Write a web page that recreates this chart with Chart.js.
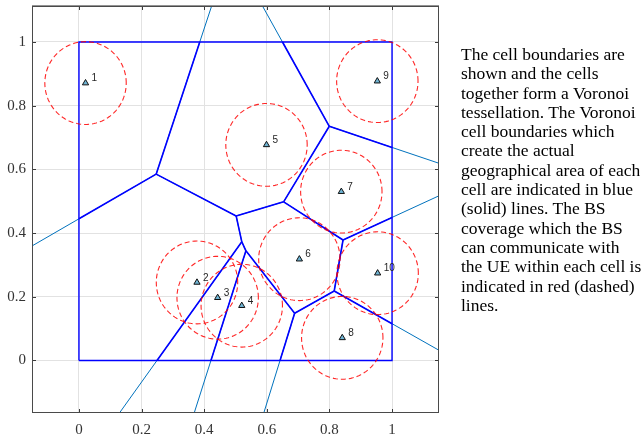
<!DOCTYPE html>
<html>
<head>
<meta charset="utf-8">
<script src="https://cdn.jsdelivr.net/npm/chart.js@4/dist/chart.umd.min.js"></script>
<style>
  html, body { margin: 0; padding: 0; background: #fff; }
  #wrap { position: relative; width: 642px; height: 436px; }
  #note {
    position: absolute; left: 461px; top: 45px;
    font-family: "Liberation Serif", "Times New Roman", serif;
    font-size: 17.5px; line-height: 19.3px; color: #000; white-space: nowrap;
  }
</style>
</head>
<body>
<div id="wrap">
  <canvas id="c" width="642" height="436"></canvas>
  <div id="note">The cell boundaries are<br>shown and the cells<br>together form a Voronoi<br>tessellation. The Voronoi<br>cell boundaries which<br>create the actual<br>geographical area of each<br>cell are indicated in blue<br>(solid) lines. The BS<br>coverage which the BS<br>can communicate with<br>the UE within each cell is<br>indicated in red (dashed)<br>lines.</div>
</div>
<script>
// Base station positions and labels
const bsX = [0.021, 0.377, 0.443, 0.520, 0.599, 0.704, 0.838, 0.841, 0.953, 0.954];
const bsY = [0.871, 0.245, 0.197, 0.172, 0.677, 0.318, 0.530, 0.071, 0.877, 0.274];
const bsLabels = ['1', '2', '3', '4', '5', '6', '7', '8', '9', '10'];
// Coverage radius of every BS
const coverageRadius = 0.13;
// Service region (unit square) and axis ticks
const regionX = [0, 1, 1, 0, 0];
const regionY = [0, 0, 1, 1, 0];
const tickVals = [0, 0.2, 0.4, 0.6, 0.8, 1];

// Voronoi edges: for each pair of sites, the part of their bisector
// where both are the nearest sites.
function voronoiEdges(xs, ys, span) {
  const n = xs.length, edges = [];
  for (let i = 0; i < n; i++) for (let j = i + 1; j < n; j++) {
    const mx = (xs[i] + xs[j]) / 2, my = (ys[i] + ys[j]) / 2;
    let dx = -(ys[j] - ys[i]), dy = xs[j] - xs[i];
    const len = Math.hypot(dx, dy); dx /= len; dy /= len;
    let t0 = -span, t1 = span;
    for (let k = 0; k < n; k++) {
      if (k === i || k === j) continue;
      const ax = xs[k] - xs[i], ay = ys[k] - ys[i];
      const cx = (xs[k] + xs[i]) / 2, cy = (ys[k] + ys[i]) / 2;
      const da = dx * ax + dy * ay;
      const rhs = (cx - mx) * ax + (cy - my) * ay;
      if (Math.abs(da) < 1e-12) { if (rhs < 0) { t0 = 1; t1 = 0; } }
      else if (da > 0) t1 = Math.min(t1, rhs / da);
      else t0 = Math.max(t0, rhs / da);
    }
    if (t1 - t0 > 1e-9) edges.push([[mx + t0 * dx, my + t0 * dy], [mx + t1 * dx, my + t1 * dy]]);
  }
  return edges;
}

// Liang-Barsky clip of a segment to [0,1]x[0,1]
function clipUnit(seg) {
  const [[x0, y0], [x1, y1]] = seg;
  const dx = x1 - x0, dy = y1 - y0;
  let u0 = 0, u1 = 1;
  const p = [-dx, dx, -dy, dy], q = [x0, 1 - x0, y0, 1 - y0];
  for (let k = 0; k < 4; k++) {
    if (Math.abs(p[k]) < 1e-12) { if (q[k] < 0) return null; }
    else {
      const r = q[k] / p[k];
      if (p[k] < 0) u0 = Math.max(u0, r); else u1 = Math.min(u1, r);
    }
  }
  if (u1 - u0 < 1e-9) return null;
  return [[x0 + u0 * dx, y0 + u0 * dy], [x0 + u1 * dx, y0 + u1 * dy]];
}

const edges = voronoiEdges(bsX, bsY, 5);
const datasets = [];

// Unbounded Voronoi diagram (light blue)
edges.forEach(e => datasets.push({
  data: e.map(p => ({ x: p[0], y: p[1] })),
  showLine: true, borderColor: '#0072BD', borderWidth: 1,
  pointRadius: 0, clip: 0, order: 4
}));
// Cell boundaries within the region (blue)
edges.map(clipUnit).filter(Boolean).forEach(e => datasets.push({
  data: e.map(p => ({ x: p[0], y: p[1] })),
  showLine: true, borderColor: '#0000ff', borderWidth: 1.6,
  pointRadius: 0, clip: 0, order: 3
}));
datasets.push({
  data: regionX.map((x, i) => ({ x, y: regionY[i] })),
  showLine: true, borderColor: '#0000ff', borderWidth: 1.4,
  pointRadius: 0, clip: 0, order: 3
});
// Coverage circles (red dashed)
bsX.forEach((cx, i) => {
  const ring = [];
  for (let a = 0; a <= 120; a++) {
    const t = a / 120 * 2 * Math.PI;
    ring.push({ x: cx + coverageRadius * Math.cos(t), y: bsY[i] + coverageRadius * Math.sin(t) });
  }
  datasets.push({
    data: ring, showLine: true, borderColor: 'rgba(255,0,0,0.85)', borderWidth: 1.1,
    borderDash: [5, 3], pointRadius: 0, clip: 0, order: 2
  });
});
// Base stations
datasets.push({
  data: bsX.map((x, i) => ({ x, y: bsY[i] })),
  showLine: false, pointStyle: 'triangle', pointRadius: 3.6,
  backgroundColor: '#6fb4d4', borderColor: '#111', borderWidth: 1, order: 1
});

// Inward ticks, axes box and BS labels
const frame = {
  id: 'frame',
  afterDatasetsDraw(chart) {
    const { ctx, chartArea: a, scales: { x, y } } = chart;
    ctx.save();
    ctx.font = '10px "Liberation Sans", Arial, sans-serif';
    ctx.fillStyle = '#262626';
    ctx.textBaseline = 'middle';
    ctx.textAlign = 'left';
    bsLabels.forEach((t, i) => {
      ctx.fillText(t, x.getPixelForValue(bsX[i]) + 6, y.getPixelForValue(bsY[i]) - 4.5);
    });
    ctx.strokeStyle = '#3a3a3a';
    ctx.lineWidth = 1;
    ctx.beginPath();
    tickVals.forEach(v => {
      const px = Math.round(x.getPixelForValue(v)) + 0.5;
      ctx.moveTo(px, a.bottom); ctx.lineTo(px, a.bottom - 4);
      ctx.moveTo(px, a.top); ctx.lineTo(px, a.top + 4);
      const py = Math.round(y.getPixelForValue(v)) + 0.5;
      ctx.moveTo(a.left, py); ctx.lineTo(a.left + 4, py);
      ctx.moveTo(a.right, py); ctx.lineTo(a.right - 4, py);
    });
    ctx.stroke();
    ctx.strokeStyle = '#4a4a4a';
    ctx.strokeRect(a.left + 0.5, a.top + 0.5, a.right - a.left - 1, a.bottom - a.top - 1);
    ctx.strokeStyle = 'rgba(120,120,120,0.8)';
    ctx.beginPath();
    ctx.moveTo(a.left, a.top - 0.5); ctx.lineTo(a.right, a.top - 0.5);
    ctx.stroke();
    ctx.restore();
  }
};

const tickFont = { family: '"Liberation Serif", "Times New Roman", serif', size: 15 };
const fmt = v => (v === 0 ? '0' : v === 1 ? '1' : v.toFixed(1));

new Chart(document.getElementById('c'), {
  type: 'scatter',
  data: { datasets },
  options: {
    responsive: false, animation: false, devicePixelRatio: 1,
    layout: { padding: { left: 0, top: 6, right: 203, bottom: 0 } },
    plugins: { legend: { display: false }, tooltip: { enabled: false } },
    scales: {
      x: {
        type: 'linear', min: -0.15, max: 1.15,
        afterBuildTicks: s => { s.ticks = tickVals.map(v => ({ value: v })); },
        afterFit: s => { s.height = 23; s.paddingLeft = 0; s.paddingRight = 0; },
        ticks: { callback: fmt, font: tickFont, color: '#333', padding: 8, maxRotation: 0 },
        grid: { color: '#e2e2e2', drawTicks: false },
        border: { display: false }
      },
      y: {
        type: 'linear', min: -0.165, max: 1.113,
        afterBuildTicks: s => { s.ticks = tickVals.map(v => ({ value: v })); },
        afterFit: s => { s.width = 32; s.paddingTop = 0; s.paddingBottom = 0; },
        ticks: { callback: fmt, font: tickFont, color: '#333', padding: 6 },
        grid: { color: '#e2e2e2', drawTicks: false },
        border: { display: false }
      }
    }
  },
  plugins: [frame]
});
</script>
</body>
</html>
